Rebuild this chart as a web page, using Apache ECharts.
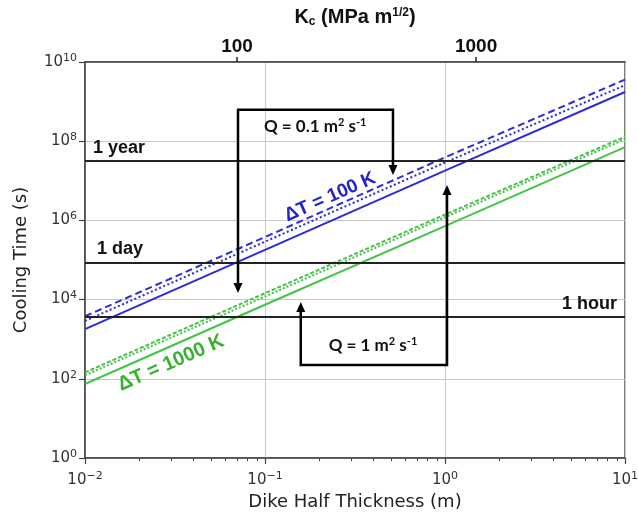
<!DOCTYPE html>
<html>
<head>
<meta charset="utf-8">
<script src="https://cdn.jsdelivr.net/npm/echarts@6/dist/echarts.min.js"></script>
<style>html,body{margin:0;padding:0;background:#fff}#c{width:638px;height:517px}</style>
</head>
<body>
<div id="c"></div>
<script>
// ---- data ----
var thickness = [0.01, 0.1, 1, 10];                 // dike half thickness (m)
var blueSolid  = [1.8e3, 1.8e5, 1.8e7, 1.75e9];     // dT = 100 K
var blueDashed = [3.8e3, 3.8e5, 3.9e7, 3.6e9];
var blueDotted = [2.9e3, 2.9e5, 2.9e7, 2.6e9];
var greenSolid  = [74, 7.4e3, 7.2e5, 7.1e7];        // dT = 1000 K
var greenDashed = [145, 1.45e4, 1.4e6, 1.3e8];
var greenDotted = [123, 1.2e4, 1.2e6, 1.12e8];
var timeLines = [{name: '1 year', value: 3.15e7}, {name: '1 day', value: 86400}, {name: '1 hour', value: 3600}];
var kcTicks = [100, 1000];
var kcRange = [23.1, 4200];
var minorX = [0.02,0.03,0.04,0.05,0.06,0.07,0.08,0.09,0.2,0.3,0.4,0.5,0.6,0.7,0.8,0.9,2,3,4,5,6,7,8,9];
// annotations in data coordinates
var box01 = {left: 0.0708, right: 0.514, top: 6.2e8, leftTip: 1.47e4, rightTip: 1.4e7, text: [0.19, 2.3e8]};
var box1  = {left: 0.158, right: 1.026, bottom: 224, leftTip: 8700, rightTip: 7.8e6, text: [0.398, 710]};
var labelBlue = [0.23, 3.9e6];
var labelGreen = [0.030, 250];

function zip(xs, ys) { return xs.map(function (x, i) { return [x, ys[i]]; }); }
function expLabel(v) {
  var e = Math.round(Math.log10(v));
  return '10{sup|' + (e < 0 ? '\u2212' + (-e) : e) + '}';
}
var tickFont = {fontFamily: 'DejaVu Sans', fontSize: 15, color: '#333',
  rich: {sup: {fontFamily: 'DejaVu Sans', fontSize: 11, color: '#333', padding: [0, 0, 8, 0]}}};

var BLUE = '#2b2bdc', GREEN = '#44c444';
function ser(name, data, color, type) {
  return {name: name, type: 'line', xAxisIndex: 0, yAxisIndex: 0, data: zip(thickness, data),
    showSymbol: false, symbol: 'none', z: 3,
    lineStyle: {color: color, width: 2, type: type}};
}

var chart = echarts.init(document.getElementById('c'), null, {renderer: 'canvas'});
var option = {
  animation: false,
  grid: {left: 85, right: 13, top: 62, bottom: 59, show: true, borderColor: '#555', borderWidth: 1.5,
    backgroundColor: 'transparent', containLabel: false, outerBoundsMode: 'none'},
  xAxis: [
    {type: 'log', logBase: 10, min: 0.01, max: 10, position: 'bottom',
      name: 'Dike Half Thickness (m)', nameLocation: 'middle', nameGap: 33,
      nameTextStyle: {fontFamily: 'DejaVu Sans', fontSize: 18, color: '#222'},
      axisLine: {lineStyle: {color: '#444', width: 1.5}},
      axisTick: {show: true, length: 6, inside: false, lineStyle: {color: '#444', width: 1.2}},
      axisLabel: Object.assign({formatter: expLabel, margin: 13}, tickFont),
      splitLine: {show: true, lineStyle: {color: '#c8c8c8', width: 1}}},
    {type: 'log', logBase: 10, min: kcRange[0], max: kcRange[1], position: 'top',
      name: 'K{sub|c} (MPa m{sup|1/2})', nameLocation: 'middle', nameGap: 34,
      nameTextStyle: {fontFamily: 'Liberation Sans', fontWeight: 'bold', fontSize: 20, color: '#111',
        rich: {sub: {fontFamily: 'Liberation Sans', fontWeight: 'bold', fontSize: 12, color: '#111', padding: [9, 0, 0, 0]},
               sup: {fontFamily: 'Liberation Sans', fontWeight: 'bold', fontSize: 12, color: '#111', padding: [0, 0, 9, 0]}}},
      axisLine: {lineStyle: {color: '#444', width: 1.5}},
      axisTick: {show: true, length: 5, customValues: kcTicks, lineStyle: {color: '#222', width: 1.5}},
      axisLabel: {customValues: kcTicks, formatter: function (v) { return String(Math.round(v)); },
        fontFamily: 'Liberation Sans', fontWeight: 'bold', fontSize: 19, color: '#111', margin: 6},
      splitLine: {show: false}},
    {type: 'log', logBase: 10, min: 0.01, max: 10, position: 'bottom',
      axisLine: {show: false},
      axisTick: {show: true, length: 3, customValues: minorX, lineStyle: {color: '#444', width: 1}},
      axisLabel: {show: false}, splitLine: {show: false}}
  ],
  yAxis: [
    {type: 'log', logBase: 10, min: 1, max: 1e10, interval: 2,
      name: 'Cooling Time (s)', nameLocation: 'middle', nameGap: 55,
      nameTextStyle: {fontFamily: 'DejaVu Sans', fontSize: 18, color: '#222'},
      axisLine: {show: true, lineStyle: {color: '#444', width: 1.5}},
      axisTick: {show: true, length: 6, lineStyle: {color: '#444', width: 1.2}},
      axisLabel: Object.assign({formatter: expLabel, margin: 8}, tickFont),
      splitLine: {show: true, lineStyle: {color: '#c8c8c8', width: 1}}}
  ],
  series: [
    {type: 'line', xAxisIndex: 0, yAxisIndex: 0, data: [], z: 2,
      markLine: {silent: true, symbol: 'none', animation: false,
        lineStyle: {color: '#222', width: 2, type: 'solid'},
        data: timeLines.map(function (t, i) {
          return {yAxis: t.value, label: {show: true, formatter: t.name,
            position: i === 2 ? 'insideEndTop' : 'insideStartTop', distance: [i === 1 ? 12 : 8, 4],
            fontFamily: 'Liberation Sans', fontWeight: 'bold', fontSize: 18, color: '#111'}};
        })}},
    ser('b1', blueSolid, BLUE, 'solid'),
    ser('b2', blueDashed, BLUE, [7, 4]),
    ser('b3', blueDotted, BLUE, [2, 2.5]),
    ser('g1', greenSolid, GREEN, 'solid'),
    ser('g2', greenDashed, GREEN, [4, 2]),
    ser('g3', greenDotted, GREEN, [2, 2])
  ]
};
chart.setOption(option);

function px(p) { return chart.convertToPixel({xAxisIndex: 0, yAxisIndex: 0}, p); }
function arrowHead(tip, dir) { // dir: 1 = pointing down, -1 = pointing up
  var w = 4.5, l = 10;
  return {type: 'polygon', z: 20, shape: {points: [[tip[0], tip[1]], [tip[0] - w, tip[1] - dir * l], [tip[0] + w, tip[1] - dir * l]]},
    style: {fill: '#000'}};
}
var g = [];
var lineStyle = {stroke: '#000', lineWidth: 2.5, fill: null};
// box Q = 0.1
var a1 = px([box01.left, box01.leftTip]), a2 = px([box01.left, box01.top]), a3 = px([box01.right, box01.top]), a4 = px([box01.right, box01.rightTip]);
g.push({type: 'polyline', z: 20, shape: {points: [[a1[0], a1[1] - 6], a2, a3, [a4[0], a4[1] - 6]]}, style: lineStyle});
g.push(arrowHead(a1, 1)); g.push(arrowHead(a4, 1));
// box Q = 1
var b1 = px([box1.left, box1.leftTip]), b2 = px([box1.left, box1.bottom]), b3 = px([box1.right, box1.bottom]), b4 = px([box1.right, box1.rightTip]);
g.push({type: 'polyline', z: 20, shape: {points: [[b1[0], b1[1] + 6], b2, b3, [b4[0], b4[1] + 6]]}, style: lineStyle});
g.push(arrowHead(b1, -1)); g.push(arrowHead(b4, -1));
var qRich = {s: {fontFamily: 'Lato', fontWeight: 'bold', fontSize: 11, fill: '#111', padding: [0, 0, 8, 0]}};
var t1 = px(box01.text), t2 = px(box1.text);
g.push({type: 'text', z: 21, x: t1[0], y: t1[1], style: {text: 'Q = 0.1 m{s|2} s{s|-1}', rich: qRich, align: 'center', verticalAlign: 'middle',
  fontFamily: 'Lato', fontWeight: 'bold', fontSize: 17, fill: '#111'}});
g.push({type: 'text', z: 21, x: t2[0], y: t2[1], style: {text: 'Q = 1 m{s|2} s{s|-1}', rich: qRich, align: 'center', verticalAlign: 'middle',
  fontFamily: 'Lato', fontWeight: 'bold', fontSize: 17, fill: '#111'}});
// rotated series labels, angle from the line slope on screen
var p0 = px([thickness[0], blueSolid[0]]), p1 = px([thickness[3], blueSolid[3]]);
var ang = Math.atan2(-(p1[1] - p0[1]), p1[0] - p0[0]);
var lb = px(labelBlue), lg = px(labelGreen);
g.push({type: 'text', z: 21, x: lb[0], y: lb[1], rotation: ang, style: {text: '\u0394T = 100 K', align: 'center', verticalAlign: 'middle',
  fontFamily: 'Liberation Sans', fontWeight: 'bold', fontSize: 19, fill: '#2424c4'}});
g.push({type: 'text', z: 21, x: lg[0], y: lg[1], rotation: ang, style: {text: '\u0394T = 1000 K', align: 'center', verticalAlign: 'middle',
  fontFamily: 'Liberation Sans', fontWeight: 'bold', fontSize: 20, fill: '#38b030'}});
chart.setOption({graphic: g});
</script>
</body>
</html>
